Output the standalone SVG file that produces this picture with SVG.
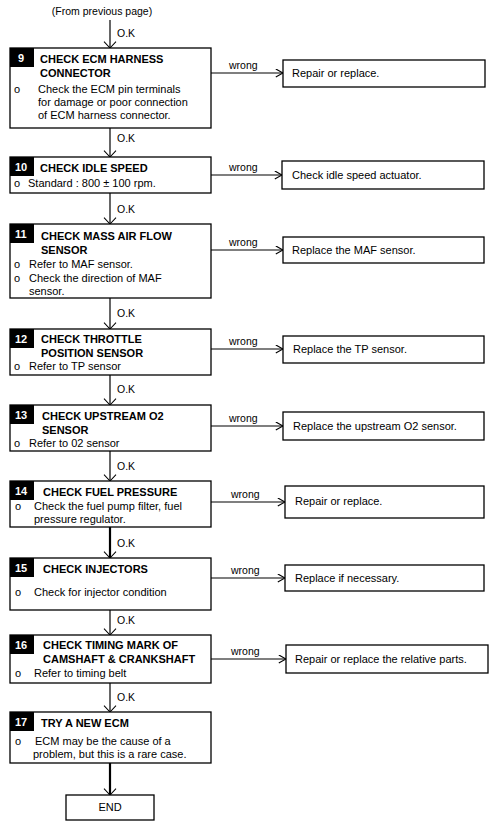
<svg xmlns="http://www.w3.org/2000/svg" width="496" height="822" viewBox="0 0 496 822">
<style>
.box{fill:#fff;stroke:#000;stroke-width:1.3}
.badge{fill:#000}
.num{font-family:"Liberation Sans",Arial,sans-serif;font-weight:bold;font-size:11px;fill:#fff}
.ttl{font-family:"Liberation Sans",Arial,sans-serif;font-weight:bold;font-size:11px;fill:#000}
.txt{font-family:"Liberation Sans",Arial,sans-serif;font-size:11px;fill:#000}
.lbl{font-family:"Liberation Sans",Arial,sans-serif;font-size:10.5px;fill:#000}
.ln{fill:none;stroke:#000;stroke-width:1.2}
.thick{stroke-width:2.2}
</style>
<defs>
<marker id="arr" viewBox="0 0 10 10" refX="9" refY="5" markerWidth="9" markerHeight="9" markerUnits="userSpaceOnUse" orient="auto">
<path d="M1,0.5 L9,5 L1,9.5" fill="none" stroke="#000" stroke-width="1.3"/>
</marker>
<marker id="arrd" viewBox="0 0 16 10" refX="8" refY="9" markerWidth="16" markerHeight="8" markerUnits="userSpaceOnUse" orient="0">
<path d="M0.5,1 L8,9 L15.5,1" fill="none" stroke="#000" stroke-width="1.3"/>
</marker>
</defs>
<rect width="496" height="822" fill="#fff"/>
<text class="lbl" x="102" y="15" text-anchor="middle">(From previous page)</text>

<g id="connectors">
<line class="ln" x1="110" y1="20" x2="110" y2="48" marker-end="url(#arrd)"/>
<text class="lbl" x="117" y="37">O.K</text>
<line class="ln" x1="110" y1="128" x2="110" y2="157" marker-end="url(#arrd)"/>
<text class="lbl" x="117" y="142">O.K</text>
<line class="ln" x1="110" y1="193" x2="110" y2="224" marker-end="url(#arrd)"/>
<text class="lbl" x="117" y="213">O.K</text>
<line class="ln" x1="110" y1="298" x2="110" y2="329" marker-end="url(#arrd)"/>
<text class="lbl" x="117" y="317">O.K</text>
<line class="ln" x1="110" y1="375" x2="110" y2="405" marker-end="url(#arrd)"/>
<text class="lbl" x="117" y="393">O.K</text>
<line class="ln" x1="110" y1="451" x2="110" y2="481" marker-end="url(#arrd)"/>
<text class="lbl" x="117" y="470">O.K</text>
<line class="ln thick" x1="110" y1="527" x2="110" y2="558" marker-end="url(#arrd)"/>
<text class="lbl" x="117" y="547">O.K</text>
<line class="ln" x1="110" y1="610" x2="110" y2="635" marker-end="url(#arrd)"/>
<text class="lbl" x="117" y="624">O.K</text>
<line class="ln" x1="110" y1="683" x2="110" y2="712" marker-end="url(#arrd)"/>
<text class="lbl" x="117" y="701">O.K</text>
<line class="ln thick" x1="110" y1="763" x2="110" y2="795" marker-end="url(#arrd)"/>

<line class="ln" x1="211" y1="73" x2="283" y2="73" marker-end="url(#arr)"/>
<text class="lbl" x="229" y="69">wrong</text>
<line class="ln" x1="211" y1="175" x2="282" y2="175" marker-end="url(#arr)"/>
<text class="lbl" x="229" y="171">wrong</text>
<line class="ln" x1="211" y1="250" x2="283" y2="250" marker-end="url(#arr)"/>
<text class="lbl" x="229" y="246">wrong</text>
<line class="ln" x1="211" y1="349" x2="283" y2="349" marker-end="url(#arr)"/>
<text class="lbl" x="229" y="345">wrong</text>
<line class="ln" x1="211" y1="426" x2="283" y2="426" marker-end="url(#arr)"/>
<text class="lbl" x="229" y="422">wrong</text>
<line class="ln" x1="211" y1="502" x2="285" y2="502" marker-end="url(#arr)"/>
<text class="lbl" x="231" y="498">wrong</text>
<line class="ln" x1="211" y1="578" x2="285" y2="578" marker-end="url(#arr)"/>
<text class="lbl" x="231" y="574">wrong</text>
<line class="ln" x1="211" y1="659" x2="286" y2="659" marker-end="url(#arr)"/>
<text class="lbl" x="231" y="655">wrong</text>
</g>

<g id="n9">
<rect class="box" x="10" y="48" width="201" height="80"/>
<rect class="badge" x="10" y="48" width="24" height="19"/>
<text class="num" x="18" y="62">9</text>
<text class="ttl" x="40" y="63">CHECK ECM HARNESS</text>
<text class="ttl" x="40" y="77">CONNECTOR</text>
<text class="txt" x="14" y="93">o</text>
<text class="txt" x="38" y="93">Check the ECM pin terminals</text>
<text class="txt" x="38" y="106">for damage or poor connection</text>
<text class="txt" x="38" y="119">of ECM harness connector.</text>
</g>
<g id="r9">
<rect class="box" x="283" y="60" width="202" height="27"/>
<text class="txt" x="292" y="77">Repair or replace.</text>
</g>

<g id="n10">
<rect class="box" x="10" y="157" width="201" height="36"/>
<rect class="badge" x="10" y="157" width="24" height="19"/>
<text class="num" x="15" y="171">10</text>
<text class="ttl" x="40" y="172">CHECK IDLE SPEED</text>
<text class="txt" x="14" y="187">o</text>
<text class="txt" x="28" y="187">Standard : 800 ± 100 rpm.</text>
</g>
<g id="r10">
<rect class="box" x="282" y="161" width="202" height="28"/>
<text class="txt" x="292" y="179">Check idle speed actuator.</text>
</g>

<g id="n11">
<rect class="box" x="10" y="224" width="201" height="74"/>
<rect class="badge" x="10" y="224" width="24" height="19"/>
<text class="num" x="15" y="238">11</text>
<text class="ttl" x="41" y="240">CHECK MASS AIR FLOW</text>
<text class="ttl" x="41" y="254">SENSOR</text>
<text class="txt" x="14" y="268">o</text>
<text class="txt" x="29" y="268">Refer to MAF sensor.</text>
<text class="txt" x="14" y="282">o</text>
<text class="txt" x="29" y="282">Check the direction of MAF</text>
<text class="txt" x="29" y="295">sensor.</text>
</g>
<g id="r11">
<rect class="box" x="283" y="237" width="201" height="26"/>
<text class="txt" x="292" y="254">Replace the MAF sensor.</text>
</g>

<g id="n12">
<rect class="box" x="10" y="329" width="201" height="46"/>
<rect class="badge" x="10" y="329" width="24" height="19"/>
<text class="num" x="15" y="343">12</text>
<text class="ttl" x="41" y="343">CHECK THROTTLE</text>
<text class="ttl" x="41" y="357">POSITION SENSOR</text>
<text class="txt" x="14" y="370">o</text>
<text class="txt" x="29" y="370">Refer to TP sensor</text>
</g>
<g id="r12">
<rect class="box" x="283" y="336" width="201" height="27"/>
<text class="txt" x="293" y="353">Replace the TP sensor.</text>
</g>

<g id="n13">
<rect class="box" x="10" y="405" width="201" height="46"/>
<rect class="badge" x="10" y="405" width="24" height="19"/>
<text class="num" x="15" y="419">13</text>
<text class="ttl" x="42" y="420">CHECK UPSTREAM O2</text>
<text class="ttl" x="42" y="434">SENSOR</text>
<text class="txt" x="14" y="447">o</text>
<text class="txt" x="29" y="447">Refer to 02 sensor</text>
</g>
<g id="r13">
<rect class="box" x="283" y="412" width="201" height="28"/>
<text class="txt" x="293" y="430">Replace the upstream O2 sensor.</text>
</g>

<g id="n14">
<rect class="box" x="10" y="481" width="201" height="46"/>
<rect class="badge" x="10" y="481" width="24" height="19"/>
<text class="num" x="15" y="495">14</text>
<text class="ttl" x="43" y="496">CHECK FUEL PRESSURE</text>
<text class="txt" x="15" y="510">o</text>
<text class="txt" x="34" y="510">Check the fuel pump filter, fuel</text>
<text class="txt" x="34" y="523">pressure regulator.</text>
</g>
<g id="r14">
<rect class="box" x="285" y="486" width="199" height="32"/>
<text class="txt" x="295" y="505">Repair or replace.</text>
</g>

<g id="n15">
<rect class="box" x="10" y="558" width="201" height="52"/>
<rect class="badge" x="10" y="558" width="24" height="19"/>
<text class="num" x="15" y="572">15</text>
<text class="ttl" x="43" y="573">CHECK INJECTORS</text>
<text class="txt" x="15" y="596">o</text>
<text class="txt" x="34" y="596">Check for injector condition</text>
</g>
<g id="r15">
<rect class="box" x="285" y="565" width="199" height="26"/>
<text class="txt" x="295" y="582">Replace if necessary.</text>
</g>

<g id="n16">
<rect class="box" x="10" y="635" width="201" height="48"/>
<rect class="badge" x="10" y="635" width="24" height="19"/>
<text class="num" x="15" y="649">16</text>
<text class="ttl" x="43" y="649">CHECK TIMING MARK OF</text>
<text class="ttl" x="43" y="663">CAMSHAFT &amp; CRANKSHAFT</text>
<text class="txt" x="15" y="677">o</text>
<text class="txt" x="34" y="677">Refer to timing belt</text>
</g>
<g id="r16">
<rect class="box" x="286" y="645" width="202" height="28"/>
<text class="txt" x="295" y="663">Repair or replace the relative parts.</text>
</g>

<g id="n17">
<rect class="box" x="10" y="712" width="201" height="51"/>
<rect class="badge" x="10" y="712" width="24" height="19"/>
<text class="num" x="15" y="726">17</text>
<text class="ttl" x="41" y="727">TRY A NEW ECM</text>
<text class="txt" x="15" y="745">o</text>
<text class="txt" x="35" y="745">ECM may be the cause of a</text>
<text class="txt" x="33" y="758">problem, but this is a rare case.</text>
</g>

<g id="end">
<rect class="box" x="66" y="795" width="88" height="25"/>
<text class="txt" x="110" y="811" text-anchor="middle">END</text>
</g>
</svg>
